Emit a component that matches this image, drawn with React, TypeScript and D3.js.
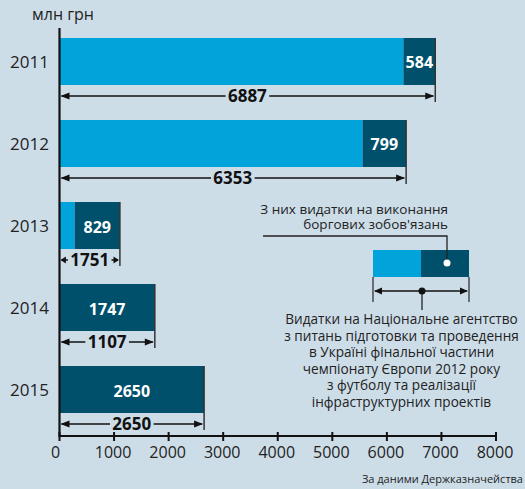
import React from "react";
import * as d3 from "d3";

const years = ["2011", "2012", "2013", "2014", "2015"];
const totals = [6887, 6353, 1107, 1747, 2650];
const euroPart = [584, 799, 829, 1747, 2650];
const innerLabels = ["584", "799", "829", "1747", "2650"];
const totalLabels = ["6887", "6353", "1751", "1107", "2650"];
const xTicks = [0, 1000, 2000, 3000, 4000, 5000, 6000, 7000, 8000];
const legendTop = ["З них видатки на виконання", "боргових зобов'язань"];
const legendBottom = [
  "Видатки на Національне агентство",
  "з питань підготовки та проведення",
  "в Україні фінальної частини",
  "чемпіонату Європи 2012 року",
  "з футболу та реалізації",
  "інфраструктурних проектів",
];

const W = 525;
const H = 489;
const BG = "#cddde8";
const LIGHT = "#00a4da";
const DARK = "#00506b";
const FONT = "'Open Sans', 'Noto Sans', sans-serif";

const x = d3.scaleLinear().domain([0, 8000]).range([59.5, 496]);
const y = d3.scaleBand<string>().domain(years).range([38, 413]).paddingInner(0.427).paddingOuter(0);

function Arrow({ x0, x1, yy, head }: { x0: number; x1: number; yy: number; head: number }) {
  const hh = 3.5;
  return (
    <g>
      <line x1={x0 + 2} x2={x1 - 2} y1={yy} y2={yy} stroke="#111" strokeWidth={1.5} />
      <path d={`M${x0 + 1},${yy} L${x0 + 1 + head},${yy - hh} L${x0 + 1 + head},${yy + hh} Z`} fill="#111" />
      <path d={`M${x1 - 1},${yy} L${x1 - 1 - head},${yy - hh} L${x1 - 1 - head},${yy + hh} Z`} fill="#111" />
    </g>
  );
}

export default function App() {
  const bw = y.bandwidth();
  return (
    <svg
      width={W}
      height={H}
      style={{ position: "absolute", left: 0, top: 0, background: BG }}
      fontFamily={FONT}
    >
      <rect x={0} y={0} width={W} height={H} fill={BG} />
      <text x={32} y={20} fontSize={16} fill="#222">млн грн</text>

      {years.map((yr, i) => {
        const top = y(yr)!;
        const tot = totals[i];
        const eu = euroPart[i];
        const split = tot - eu;
        const cy = top + bw / 2;
        const arrowY = top + bw + 11;
        const x0 = x(0);
        const x1 = x(tot);
        const lbl = totalLabels[i];
        const lw = lbl.length * 9.4 + 6;
        const head = Math.min(9, Math.max(5, (x1 - x0 - lw) / 2 - 3));
        return (
          <g key={yr}>
            <text x={49} y={cy + 6.5} fontSize={17} fill="#222" textAnchor="end">{yr}</text>
            {split > 0 && (
              <rect x={x0} y={top} width={x(split) - x0} height={bw} fill={LIGHT} />
            )}
            <rect x={x(split)} y={top} width={x1 - x(split)} height={bw} fill={DARK} />
            <text
              x={(x(split) + x1) / 2}
              y={cy + 7}
              fontSize={16}
              fontWeight="bold"
              fill="#fff"
              textAnchor="middle"
            >
              {innerLabels[i]}
            </text>
            <line x1={x1} x2={x1} y1={top} y2={top + bw + 17} stroke="#333" strokeWidth={1.5} />
            <Arrow x0={x0} x1={x1} yy={arrowY} head={head} />
            <rect x={(x0 + x1) / 2 - lw / 2} y={arrowY - 8} width={lw} height={16} fill={BG} />
            <text
              x={(x0 + x1) / 2}
              y={arrowY + 6}
              fontSize={17}
              fontWeight="bold"
              fill="#111"
              textAnchor="middle"
            >
              {lbl}
            </text>
          </g>
        );
      })}

      {/* axes */}
      <line x1={x(0)} x2={x(0)} y1={28} y2={437} stroke="#111" strokeWidth={2.2} />
      <line x1={x(0)} x2={x(8000)} y1={436} y2={436} stroke="#111" strokeWidth={2} />
      {xTicks.map((t) => (
        <g key={t}>
          <line x1={x(t)} x2={x(t)} y1={432} y2={441} stroke="#111" strokeWidth={2} />
          <text x={x(t) - (t === 0 ? 4 : 1)} y={457.5} fontSize={16} fill="#222" textAnchor="middle">
            {t}
          </text>
        </g>
      ))}

      {/* legend */}
      {legendTop.map((s, i) => (
        <text key={s} x={448} y={213.5 + i * 15.5} fontSize={13.5} fill="#222" textAnchor="end">{s}</text>
      ))}
      <rect x={373} y={250} width={48} height={27} fill={LIGHT} />
      <rect x={421} y={250} width={48} height={27} fill={DARK} />
      <path d="M263,236 L447,236 L447,263" fill="none" stroke="#222" strokeWidth={1.3} />
      <circle cx={447} cy={263} r={3.5} fill="#fff" />
      <line x1={373} x2={373} y1={277} y2={302} stroke="#333" strokeWidth={1.3} />
      <line x1={469} x2={469} y1={277} y2={302} stroke="#333" strokeWidth={1.3} />
      <Arrow x0={373} x1={469} yy={291} head={8} />
      <line x1={422} x2={422} y1={291} y2={310} stroke="#222" strokeWidth={1.3} />
      <circle cx={422} cy={291} r={3.5} fill="#111" />
      {legendBottom.map((s, i) => (
        <text key={s} x={401.5} y={324 + i * 16.6} fontSize={13.6} fill="#222" textAnchor="middle">{s}</text>
      ))}

      <text x={523} y={483} fontSize={11} fill="#222" textAnchor="end">За даними Держказначейства</text>
    </svg>
  );
}
